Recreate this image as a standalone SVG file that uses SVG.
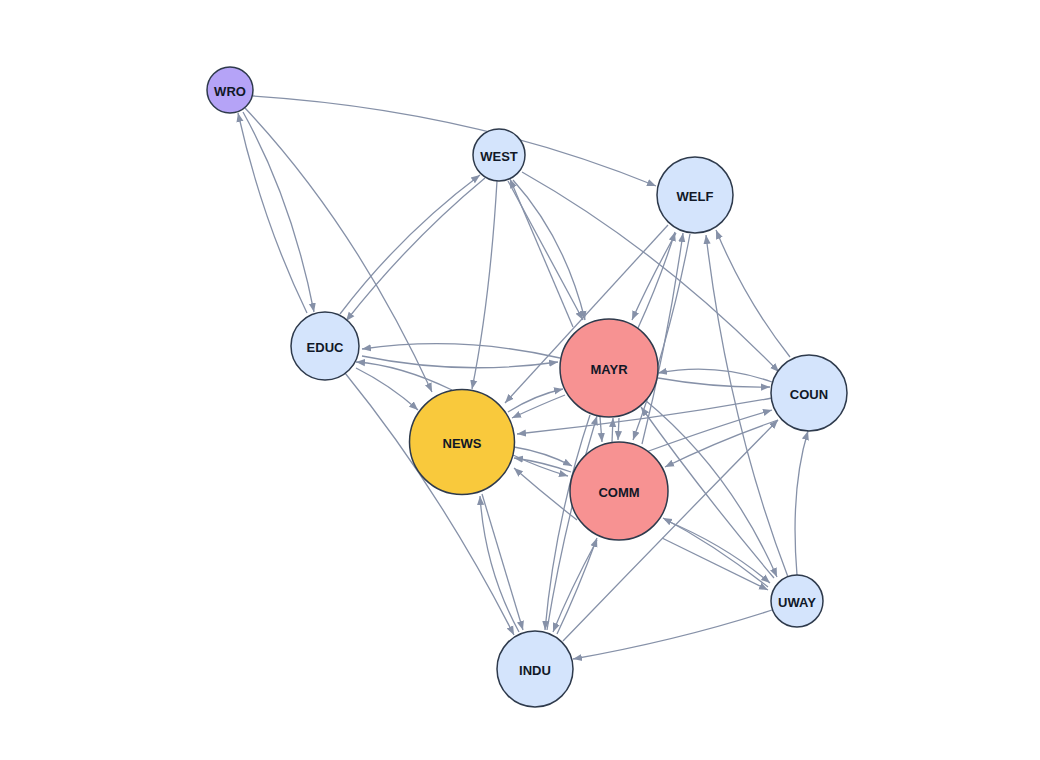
<svg xmlns="http://www.w3.org/2000/svg" width="1040" height="760" viewBox="0 0 1040 760">
<style>
.bg{fill:#ffffff}
.e{fill:none;stroke:#8691a8;stroke-width:1.3;marker-end:url(#arr)}
.n{stroke:#2e3a4c;stroke-width:1.5}
.blue{fill:#d4e4fc}
.red{fill:#f79292}
.yel{fill:#f9c93c}
.pur{fill:#b5a3f7}
.t{font-family:"Liberation Sans",Arial,sans-serif;font-weight:bold;font-size:13px;fill:#111827;text-anchor:middle;dominant-baseline:central}
</style>
<defs>
<marker id="arr" viewBox="0 0 10 10" refX="10" refY="5" markerWidth="9" markerHeight="9" markerUnits="userSpaceOnUse" orient="auto">
<path d="M0,1 L10,5 L0,9 z" fill="#8691a8"/>
</marker>
</defs>
<rect class="bg" x="0" y="0" width="1040" height="760"/>
<g id="edges">
<path class="e" d="M253,96 Q470,110 656,186"/>
<path class="e" d="M307,313 Q262,220 238,113"/>
<path class="e" d="M243,112 Q292,200 314,312"/>
<path class="e" d="M245,108 Q355,225 432,392"/>
<path class="e" d="M485,178 Q410,240 346,321"/>
<path class="e" d="M340,314 Q400,235 480,175"/>
<path class="e" d="M497,181 Q490,300 472,389"/>
<path class="e" d="M513,180 Q565,238 585,320"/>
<path class="e" d="M508,181 L583,320"/>
<path class="e" d="M573,327 Q540,250 510,179"/>
<path class="e" d="M522,172 Q660,250 779,372"/>
<path class="e" d="M668,225 Q590,310 505,403"/>
<path class="e" d="M676,233 Q650,280 632,320"/>
<path class="e" d="M638,328 Q660,280 675,232"/>
<path class="e" d="M642,444 Q668,340 683,233"/>
<path class="e" d="M690,234 Q670,340 633,440"/>
<path class="e" d="M788,577 Q728,420 706,235"/>
<path class="e" d="M790,357 Q745,300 716,230"/>
<path class="e" d="M560,358 Q460,335 362,349"/>
<path class="e" d="M362,356 Q460,376 558,362"/>
<path class="e" d="M452,390 Q400,365 356,362"/>
<path class="e" d="M356,368 Q390,385 418,410"/>
<path class="e" d="M508,412 Q535,395 563,389"/>
<path class="e" d="M565,395 Q540,405 512,418"/>
<path class="e" d="M514,447 Q545,452 572,466"/>
<path class="e" d="M571,472 Q543,462 514,458"/>
<path class="e" d="M513,455 Q540,468 568,476"/>
<path class="e" d="M577,520 Q545,495 514,468"/>
<path class="e" d="M600,417 L602,442"/>
<path class="e" d="M612,442 L613,418"/>
<path class="e" d="M619,418 L618,440"/>
<path class="e" d="M772,382 Q715,362 658,373"/>
<path class="e" d="M658,378 Q715,388 770,387"/>
<path class="e" d="M772,398 Q650,420 517,434"/>
<path class="e" d="M646,452 Q720,425 772,410"/>
<path class="e" d="M778,420 Q720,440 665,467"/>
<path class="e" d="M645,400 Q730,470 777,577"/>
<path class="e" d="M774,578 Q700,490 641,407"/>
<path class="e" d="M665,520 Q725,545 770,583"/>
<path class="e" d="M768,587 Q715,545 663,518"/>
<path class="e" d="M662,538 L768,590"/>
<path class="e" d="M772,610 Q680,640 573,659"/>
<path class="e" d="M797,575 Q790,490 808,431"/>
<path class="e" d="M345,373 Q440,490 514,635"/>
<path class="e" d="M482,494 Q505,570 523,630"/>
<path class="e" d="M519,632 Q485,570 480,496"/>
<path class="e" d="M547,630 Q565,520 597,416"/>
<path class="e" d="M590,415 Q555,520 545,630"/>
<path class="e" d="M597,540 Q570,590 553,632"/>
<path class="e" d="M557,634 Q578,590 597,538"/>
<path class="e" d="M563,641 Q670,530 778,420" style="marker-end:url(#arr)"/>
</g>
<g id="node-WRO"><circle class="n pur" cx="230" cy="90" r="23"/><text class="t" x="230" y="91">WRO</text></g>
<g id="node-WEST"><circle class="n blue" cx="499" cy="155" r="26"/><text class="t" x="499" y="156">WEST</text></g>
<g id="node-WELF"><circle class="n blue" cx="695" cy="195" r="38"/><text class="t" x="695" y="196">WELF</text></g>
<g id="node-EDUC"><circle class="n blue" cx="325" cy="346" r="34"/><text class="t" x="325" y="347">EDUC</text></g>
<g id="node-MAYR"><circle class="n red" cx="609" cy="368" r="49"/><text class="t" x="609" y="369">MAYR</text></g>
<g id="node-COUN"><circle class="n blue" cx="809" cy="393" r="38"/><text class="t" x="809" y="394">COUN</text></g>
<g id="node-NEWS"><circle class="n yel" cx="462" cy="442" r="52.5"/><text class="t" x="462" y="443">NEWS</text></g>
<g id="node-COMM"><circle class="n red" cx="619" cy="491" r="49"/><text class="t" x="619" y="492">COMM</text></g>
<g id="node-UWAY"><circle class="n blue" cx="797" cy="601" r="26"/><text class="t" x="797" y="602">UWAY</text></g>
<g id="node-INDU"><circle class="n blue" cx="535" cy="669" r="38"/><text class="t" x="535" y="670">INDU</text></g>
</svg>
